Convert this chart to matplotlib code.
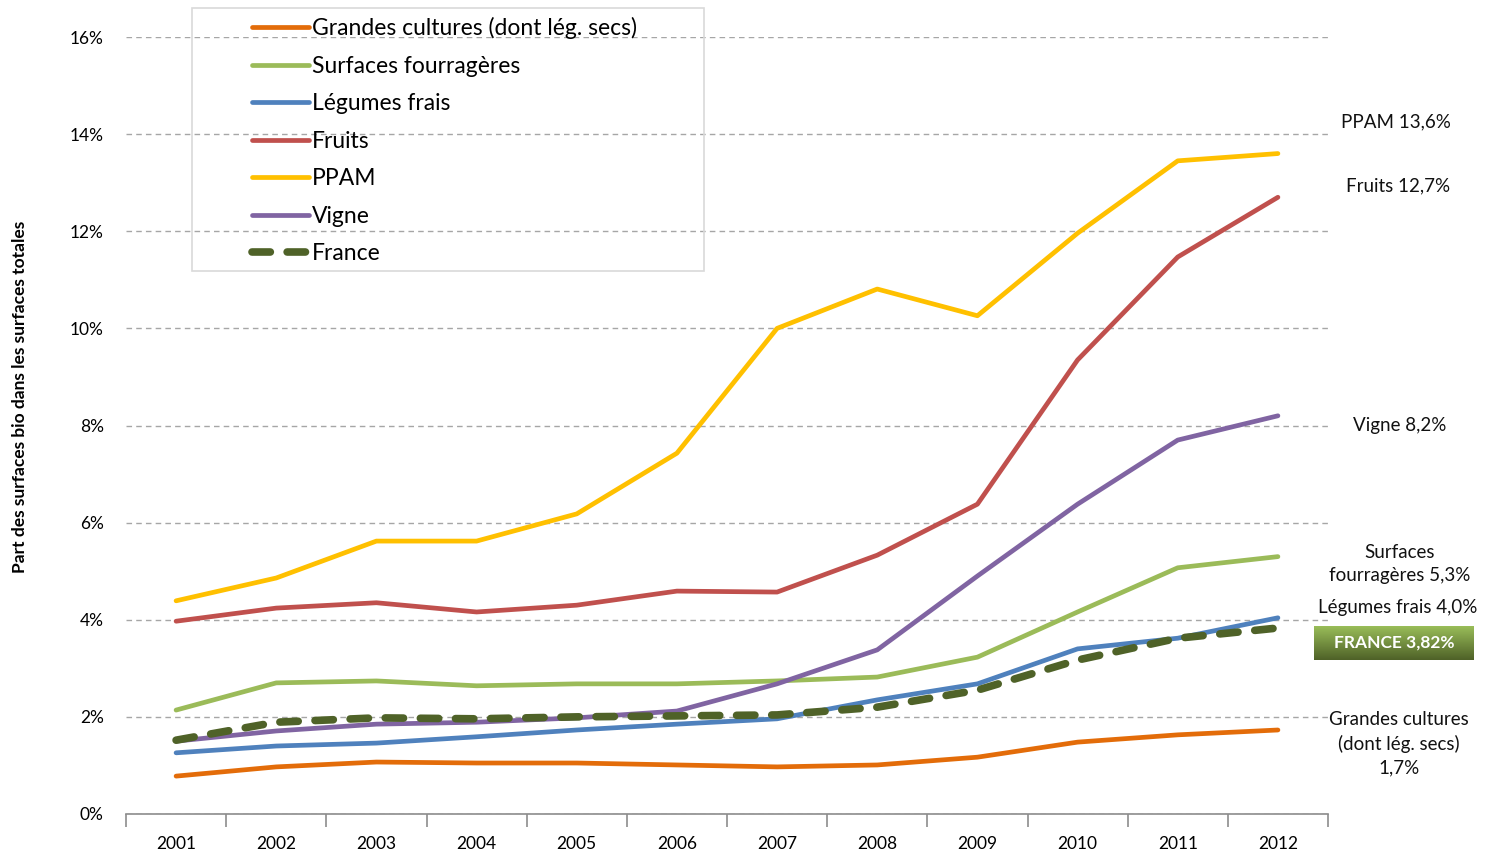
import numpy as np
import matplotlib
matplotlib.use("Agg")
import matplotlib.pyplot as plt
from matplotlib.patches import Rectangle
from matplotlib.colors import LinearSegmentedColormap

plt.rcParams['font.family'] = ['Lato', 'DejaVu Sans']

# données : part des surfaces bio dans les surfaces totales (%)
annees = ['2001', '2002', '2003', '2004', '2005', '2006',
          '2007', '2008', '2009', '2010', '2011', '2012']
grandes_cultures = [0.78, 0.97, 1.07, 1.05, 1.05, 1.01, 0.97, 1.01, 1.17, 1.48, 1.63, 1.73]
surfaces_fourrageres = [2.14, 2.70, 2.74, 2.64, 2.68, 2.68, 2.74, 2.82, 3.23, 4.16, 5.07, 5.30]
legumes_frais = [1.26, 1.40, 1.46, 1.59, 1.73, 1.85, 1.96, 2.35, 2.68, 3.40, 3.62, 4.04]
fruits = [3.97, 4.24, 4.35, 4.16, 4.30, 4.59, 4.57, 5.33, 6.38, 9.35, 11.47, 12.70]
ppam = [4.39, 4.86, 5.62, 5.62, 6.18, 7.43, 10.00, 10.81, 10.26, 11.96, 13.45, 13.60]
vigne = [1.50, 1.71, 1.85, 1.89, 1.98, 2.12, 2.68, 3.38, 4.90, 6.38, 7.70, 8.20]
france = [1.52, 1.89, 1.98, 1.96, 2.00, 2.02, 2.04, 2.20, 2.55, 3.17, 3.62, 3.83]

yticks = [0, 2, 4, 6, 8, 10, 12, 14, 16]

fig = plt.figure(figsize=(14.86, 8.52), dpi=100)
ax = fig.add_axes([126/1486, 38/852, 1202/1486, 777/852])

x = np.arange(len(annees))
series = [
    ('Grandes cultures (dont lég. secs)', grandes_cultures, '#E36C09'),
    ('Surfaces fourragères', surfaces_fourrageres, '#9BBB59'),
    ('Légumes frais', legumes_frais, '#4F81BD'),
    ('Fruits', fruits, '#C0504D'),
    ('PPAM', ppam, '#FFC000'),
    ('Vigne', vigne, '#8064A2'),
]
handles = []
for nom, vals, col in series:
    h, = ax.plot(x, vals, color=col, lw=3.4, solid_capstyle='round', label=nom)
    handles.append(h)
h, = ax.plot(x, france, color='#4F6228', lw=5.5, ls=(0, (2.4, 2.2)),
             dash_capstyle='round', label='France')
handles.append(h)

ax.set_xlim(-0.5, 11.5)
ax.set_ylim(0, 16)
ax.set_yticks(yticks)
ax.set_yticklabels([f'{v}%' for v in yticks])
ax.yaxis.grid(True, color='#a6a6a6', ls=(0, (4, 3)), lw=1)
ax.set_axisbelow(True)
for s in ['top', 'right', 'left']:
    ax.spines[s].set_visible(False)
ax.spines['bottom'].set_color('#8c8c8c')
ax.spines['bottom'].set_linewidth(1.2)

ax.set_xticks(np.arange(-0.5, 12, 1))
ax.set_xticklabels([])
ax.tick_params(axis='x', which='major', length=9, color='#8c8c8c', width=1.2)
ax.set_xticks(x, minor=True)
ax.set_xticklabels(annees, minor=True)
ax.tick_params(axis='x', which='minor', length=0, pad=16, labelsize=12.5)
ax.tick_params(axis='y', length=0, pad=16, labelsize=12.5)

fig.text(20/1486, 1 - 397/852, 'Part des surfaces bio dans les surfaces totales',
         rotation=90, ha='center', va='center', fontsize=12.5, fontweight='bold')

# légende
fig.patches.append(Rectangle((192/1486, 1 - 271/852), 512/1486, 263/852,
                             transform=fig.transFigure, fill=False,
                             edgecolor='#d9d9d9', lw=1.2))
fig.legend(handles=handles, loc='upper left', frameon=False,
           bbox_to_anchor=(252/1486, 1 - 17/852), fontsize=16.5,
           handlelength=2.5, handletextpad=0.1, labelspacing=0.72,
           borderaxespad=0, borderpad=0)

# étiquettes de fin de série
def lab(px, py, txt):
    fig.text(px/1486, 1 - py/852, txt, ha='center', va='center',
             fontsize=13.5, linespacing=1.45, color='#111111')

lab(1396, 122, 'PPAM 13,6%')
lab(1398, 186, 'Fruits 12,7%')
lab(1400, 426, 'Vigne 8,2%')
lab(1400, 564, 'Surfaces\nfourragères 5,3%')
lab(1398, 608, 'Légumes frais 4,0%')
lab(1399, 744, 'Grandes cultures\n(dont lég. secs)\n1,7%')

# encadré France avec dégradé
bax = fig.add_axes([1314/1486, 1 - 660/852, 160/1486, 34/852])
grad = np.linspace(0, 1, 50).reshape(-1, 1)
cm = LinearSegmentedColormap.from_list('g', ['#9bbf5a', '#4F6228'])
bax.imshow(grad, aspect='auto', cmap=cm, extent=[0, 1, 0, 1], origin='upper')
bax.set_axis_off()
bax.text(0.5, 0.5, 'FRANCE 3,82%', ha='center', va='center', color='white',
         fontsize=12.5, fontweight='bold', transform=bax.transAxes)

fig.savefig('out.png', dpi=100)
